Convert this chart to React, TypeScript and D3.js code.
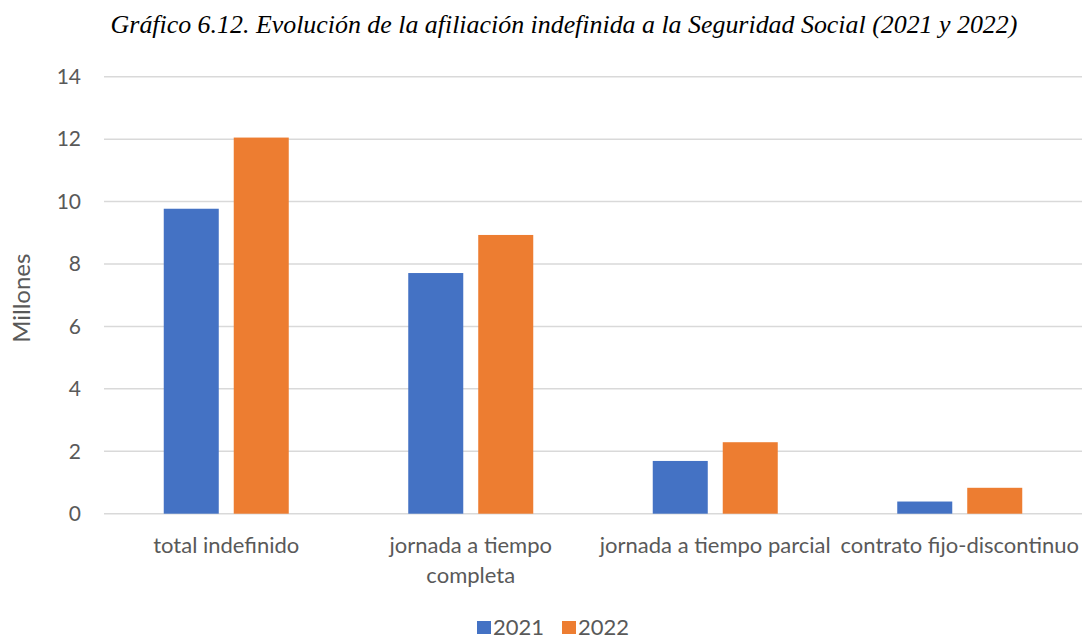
import React from "react";
import * as d3 from "d3";

const categories = [
  "total indefinido",
  "jornada a tiempo completa",
  "jornada a tiempo parcial",
  "contrato fijo-discontinuo",
];
const seriesNames = ["2021", "2022"];
const values2021 = [9.77, 7.71, 1.69, 0.39];
const values2022 = [12.05, 8.93, 2.29, 0.83];
const yTicks = [0, 2, 4, 6, 8, 10, 12, 14];
const colors = ["#4472C4", "#ED7D31"];

const W = 1089;
const H = 641;
const LABEL_FONT = "Lato, 'Open Sans', sans-serif";

function wrapLabel(text: string, maxW: number, font: string): string[] {
  const canvas = document.createElement("canvas");
  const ctx = canvas.getContext("2d")!;
  ctx.font = font;
  if (ctx.measureText(text).width <= maxW) return [text];
  const words = text.split(" ");
  const lines: string[] = [];
  let cur = "";
  for (const w of words) {
    const t = cur ? cur + " " + w : w;
    if (ctx.measureText(t).width > maxW && cur) {
      lines.push(cur);
      cur = w;
    } else cur = t;
  }
  if (cur) lines.push(cur);
  return lines;
}

export default function App() {
  const left = 104;
  const right = 1082;
  const top = 76.7;
  const bottom = 513.7;

  const x0 = d3.scaleBand<string>().domain(categories).range([left, right]).padding(0);
  const groupW = 125;
  const x1 = d3
    .scaleBand<string>()
    .domain(seriesNames)
    .range([0, groupW])
    .paddingInner(0.214)
    .paddingOuter(0);
  const y = d3.scaleLinear().domain([0, 14]).range([bottom, top]);
  const series = [values2021, values2022];

  return (
    <svg width={W} height={H} style={{ position: "absolute", left: 0, top: 0, background: "#fff" }}>
      <rect width={W} height={H} fill="#fff" />
      <text
        x={564}
        y={33}
        textAnchor="middle"
        fontFamily="'Liberation Serif', 'Times New Roman', serif"
        fontStyle="italic"
        fontSize={25.9}
        fill="#000"
      >
        Gráfico 6.12. Evolución de la afiliación indefinida a la Seguridad Social (2021 y 2022)
      </text>

      {yTicks.map((t) => (
        <g key={t}>
          <line x1={left} x2={right} y1={y(t)} y2={y(t)} stroke="#d9d9d9" strokeWidth={1.5} />
          <text
            x={81}
            y={y(t)}
            dy="0.35em"
            textAnchor="end"
            fontFamily={LABEL_FONT}
            fontSize={21}
            fill="#595959"
          >
            {t}
          </text>
        </g>
      ))}

      <text
        transform={`translate(30,${(top + bottom) / 2 + 3}) rotate(-90)`}
        textAnchor="middle"
        fontFamily={LABEL_FONT}
        fontSize={24}
        fill="#595959"
      >
        Millones
      </text>

      {categories.map((c, ci) => {
        const gx = (x0(c) as number) + (x0.bandwidth() - groupW) / 2;
        return (
          <g key={c}>
            {seriesNames.map((s, si) => {
              const v = series[si][ci];
              return (
                <rect
                  key={s}
                  x={gx + (x1(s) as number)}
                  y={y(v)}
                  width={x1.bandwidth()}
                  height={y(0) - y(v)}
                  fill={colors[si]}
                />
              );
            })}
          </g>
        );
      })}

      {categories.map((c) => {
        const lines = wrapLabel(c, x0.bandwidth(), `22px Lato`);
        const cx = (x0(c) as number) + x0.bandwidth() / 2;
        return (
          <text
            key={c}
            x={cx}
            y={553}
            textAnchor="middle"
            fontFamily={LABEL_FONT}
            fontSize={22}
            fill="#595959"
          >
            {lines.map((l, i) => (
              <tspan key={i} x={cx} dy={i === 0 ? 0 : 30}>
                {l}
              </tspan>
            ))}
          </text>
        );
      })}

      {seriesNames.map((s, i) => {
        const lx = 477 + i * 85;
        return (
          <g key={s}>
            <rect x={lx} y={621} width={14} height={13} fill={colors[i]} />
            <text x={lx + 16} y={635} fontFamily={LABEL_FONT} fontSize={22} fill="#595959">
              {s}
            </text>
          </g>
        );
      })}
    </svg>
  );
}
